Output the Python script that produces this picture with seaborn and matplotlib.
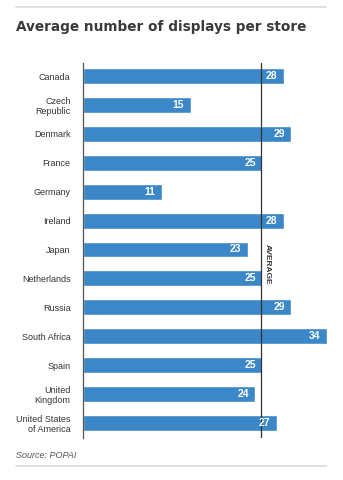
import matplotlib
matplotlib.use("Agg")
import matplotlib.pyplot as plt
import seaborn as sns
import pandas as pd
import numpy as np

countries = ["Canada", "Czech\nRepublic", "Denmark", "France", "Germany", "Ireland",
             "Japan", "Netherlands", "Russia", "South Africa", "Spain",
             "United\nKingdom", "United States\nof America"]
displays = [28, 15, 29, 25, 11, 28, 23, 25, 29, 34, 25, 24, 27]
title = "Average number of displays per store"
source = "Source: POPAI"
avg_label = "AVERAGE"

df = pd.DataFrame({"country": countries, "displays": displays})
average = float(np.mean(displays))

sns.set_theme(style="white")
plt.rcParams['font.family'] = ['Liberation Sans', 'DejaVu Sans']

fig = plt.figure(figsize=(3.43, 4.8), dpi=100)
ax = fig.add_axes([83/343, 1-438/480, (327-83)/343, (438-63)/480])

bar_color = "#3c87c8"
sns.barplot(data=df, y="country", x="displays", orient="h", color=bar_color,
            saturation=1, width=0.55, ax=ax, zorder=2)

ax.set_xlim(0, 34)
ax.set_ylim(12.52, -0.45)
ax.set_xlabel("")
ax.set_ylabel("")
ax.set_xticks([])
for s in ["top", "right", "bottom"]:
    ax.spines[s].set_visible(False)
ax.spines["left"].set_color("#555555")
ax.spines["left"].set_linewidth(0.9)
ax.tick_params(axis="y", length=0, pad=9, labelsize=6.5, labelcolor="#333333")
for lab in ax.get_yticklabels():
    lab.set_linespacing(1.1)

# average line
ax.axvline(average, color="#333333", lw=0.9, zorder=3)
ax.text(average + 0.3, 6.5, avg_label, rotation=-90, ha="left", va="center",
        fontsize=6.0, color="#333333", fontweight="bold")

# value labels
for i, v in enumerate(displays):
    ax.text(v - 0.9, i, str(v), ha="right", va="center", color="white",
            fontsize=7.5, fontweight="bold", zorder=4)

# title, rules and source
fig.text(16/343, 1-27/480, title, ha="left", va="center", fontsize=9.8,
         fontweight="bold", color="#3a3a3a", family=["DejaVu Sans"])
fig.add_artist(plt.Line2D([16/343, 326/343], [1-7/480, 1-7/480],
                          color="#dddddd", lw=1.3))
fig.add_artist(plt.Line2D([16/343, 326/343], [1-466/480, 1-466/480],
                          color="#dddddd", lw=1.3))
fig.text(16/343, 1-456/480, source, ha="left", va="center", fontsize=6.5,
         style="italic", color="#555555")

fig.savefig("out.png", dpi=100)
